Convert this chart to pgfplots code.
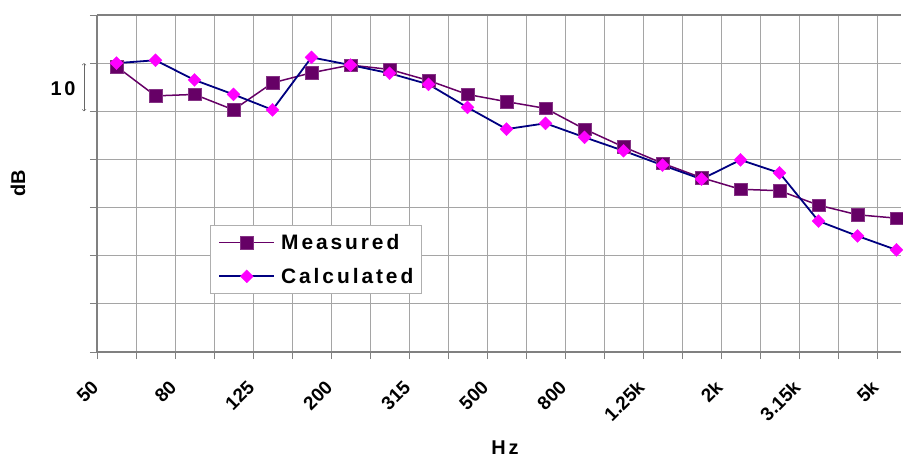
\documentclass[border=0pt]{standalone}
\usepackage{pgfplots}
\pgfplotsset{compat=1.18}
\usepackage{fontspec}
\setmainfont{Liberation Sans}
\newfontfamily\spacedfont[LetterSpace=14]{Liberation Sans}
\definecolor{meas}{RGB}{102,0,102}
\definecolor{calcline}{RGB}{0,0,128}
\definecolor{calcmark}{RGB}{255,0,255}
\definecolor{gridgray}{RGB}{165,165,165}
\definecolor{axisgray}{RGB}{128,128,128}
\definecolor{leggray}{RGB}{175,175,175}
\begin{document}
\begin{tikzpicture}
\begin{axis}[
  scale only axis, width=804bp, height=337bp,
  xmin=0, xmax=20.615, ymin=0, ymax=70,
  axis lines=left,
  axis line style={draw=axisgray, line width=1.5bp, -},
  xtick={0,2,...,20},
  minor xtick={1,3,...,19},
  xticklabels={50,80,125,200,315,500,800,1.25k,2k,3.15k,5k},
  ytick={0,10,...,70}, yticklabels={},
  tick align=outside, major tick length=7bp, minor tick length=7bp,
  tick style={draw=axisgray, line width=0.8bp},
  grid=both, grid style={draw=gridgray, line width=0.8bp},
  minor grid style={draw=gridgray, line width=0.8bp},
  xticklabel style={xshift=-2bp, yshift=-25bp, rotate=45, anchor=east, inner sep=0pt,
    font=\fontsize{19}{19}\selectfont\bfseries},
  xlabel={Hz},
  xlabel style={at={(rel axis cs:0.5075,-0.2834)}, anchor=center,
    font=\fontsize{20}{20}\selectfont\spacedfont\bfseries},
  ylabel={dB},
  ylabel style={at={(rel axis cs:-0.0983,0.5015)}, anchor=center, rotate=0,
    font=\fontsize{20}{20}\selectfont\bfseries},
  clip=false,
  legend style={at={(rel axis cs:0.1405,0.3757)}, anchor=north west,
    draw=leggray, line width=0.8bp, fill=white,
    font=\fontsize{21}{21}\selectfont\spacedfont\bfseries,
    nodes={inner sep=0pt},
    row sep=17bp, column sep=6bp, inner xsep=8bp, inner ysep=8.5bp},
  legend cell align=left,
  legend image code/.code={\draw[mark repeat=2, mark phase=2, #1]
    plot coordinates {(0bp,0bp) (27.5bp,0bp) (55bp,0bp)};},
]
\addplot[meas, line width=1.5bp, mark=square*, mark size=6.3bp,
  mark options={fill=meas, draw=meas!80!white, line width=0.5bp}]
coordinates {
(0.5,59.3) (1.5,53.2) (2.5,53.5) (3.5,50.3) (4.5,55.9) (5.5,58.0)
(6.5,59.6) (7.5,58.7) (8.5,56.4) (9.5,53.5) (10.5,52.0) (11.5,50.6)
(12.5,46.3) (13.5,42.6) (14.5,39.2) (15.5,36.2) (16.5,33.8) (17.5,33.5)
(18.5,30.5) (19.5,28.5) (20.5,27.8)
};
\addlegendentry{Measured}
\addplot[calcline, line width=1.8bp, mark=square*, mark size=4.6bp,
  mark options={fill=calcmark, draw=calcmark, rotate=45, line width=0.3bp}]
coordinates {
(0.5,60.0) (1.5,60.6) (2.5,56.5) (3.5,53.5) (4.5,50.3) (5.5,61.2)
(6.5,59.6) (7.5,57.9) (8.5,55.6) (9.5,50.8) (10.5,46.3) (11.5,47.5)
(12.5,44.6) (13.5,41.8) (14.5,38.8) (15.5,35.9) (16.5,39.9) (17.5,37.2)
(18.5,27.2) (19.5,24.1) (20.5,21.2)
};
\addlegendentry{Calculated}
\draw[axisgray, line width=1.2bp] (rel axis cs:0,1) -- (rel axis cs:1,1);
\draw[black!60, line width=0.6bp, <->] (axis cs:-0.333,60) -- (axis cs:-0.333,50);
\node[font=\fontsize{20}{20}\selectfont\spacedfont\bfseries] at (axis cs:-0.872,54.6) {10};
\end{axis}
\pgfresetboundingbox
\path[use as bounding box] ([shift={(-97bp,-105bp)}]current axis.south west)
  rectangle ([shift={(2bp,15bp)}]current axis.north east);
\end{tikzpicture}
\end{document}
